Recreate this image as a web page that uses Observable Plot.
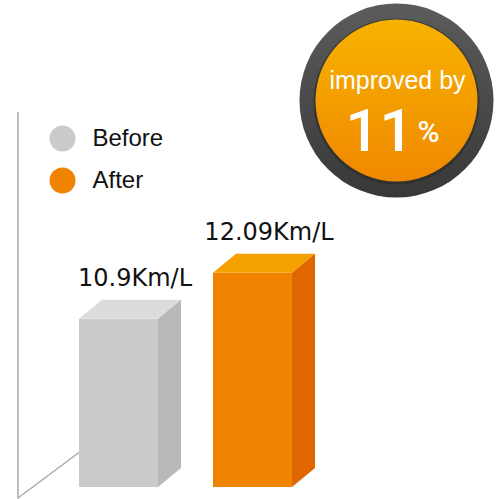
<!DOCTYPE html>
<html><head><meta charset="utf-8">
<script src="https://cdn.jsdelivr.net/npm/d3@7"></script>
<script src="https://cdn.jsdelivr.net/npm/@observablehq/plot@0.6"></script>
<style>
body{margin:0;background:#fff;}
#chart svg{display:block;}
g[aria-label="bar label"] text{letter-spacing:1.2px;}
</style></head><body><div id="chart"></div>
<script>
const categories = ["Before", "After"];
const values = [10.9, 12.09];
const valueLabels = ["10.9Km/L", "12.09Km/L"];
const legendLabels = ["Before", "After"];
const badgeText = "improved by";
const badgeValue = "11";
const badgeUnit = "%";

const frontColors = ["#cbcbcb", "#f08300"];
const topColors = ["#dcdcdc", "#f5a100"];
const sideColors = ["#b9b9b9", "#e06700"];

const data = categories.map((c, i) => ({category: c, value: values[i], label: valueLabels[i], i}));
const yBase = 6.55;
const depthX = 23, depthY = 19;

function bw(x) { return typeof x.bandwidth === "function" ? x.bandwidth() : x.bandwidth; }

function defsMark() {
  const g = d3.create("svg:g");
  const defs = g.append("defs");
  const ring = defs.append("linearGradient").attr("id", "ringGrad").attr("x1", 0).attr("y1", 0).attr("x2", 0).attr("y2", 1);
  ring.append("stop").attr("offset", "0%").attr("stop-color", "#5c5c5c");
  ring.append("stop").attr("offset", "100%").attr("stop-color", "#383838");
  const core = defs.append("linearGradient").attr("id", "coreGrad").attr("x1", 0).attr("y1", 0).attr("x2", 0).attr("y2", 1);
  core.append("stop").attr("offset", "0%").attr("stop-color", "#f7b300");
  core.append("stop").attr("offset", "100%").attr("stop-color", "#f08800");
  return g.node();
}

function floorMark(index, scales) {
  const x = scales.x, y = scales.y;
  const x0 = x(categories[0]);
  const ax = x0 - 61;
  const yb = y(yBase);
  const g = d3.create("svg:g").attr("stroke", "#a9a9a9").attr("stroke-width", 1.5).attr("fill", "none");
  g.append("line").attr("x1", ax).attr("x2", ax).attr("y1", 112).attr("y2", 499);
  g.append("line").attr("x1", ax).attr("y1", yb + 11).attr("x2", x0 + 10).attr("y2", yb - 35 - 7);
  return g.node();
}

function facesMark(index, scales) {
  const x = scales.x, y = scales.y;
  const w = bw(x);
  const g = d3.create("svg:g");
  data.forEach((d) => {
    const x1 = x(d.category), x2 = x1 + w;
    const yt = y(d.value), yb = y(yBase);
    g.append("polygon")
      .attr("points", [[x1, yt], [x1 + depthX, yt - depthY], [x2 + depthX, yt - depthY], [x2, yt]].join(" "))
      .attr("fill", topColors[d.i]);
    g.append("polygon")
      .attr("points", [[x2, yt], [x2 + depthX, yt - depthY], [x2 + depthX, yb - depthY], [x2, yb]].join(" "))
      .attr("fill", sideColors[d.i]);
  });
  return g.node();
}

const plot = Plot.plot({
  width: 501,
  height: 499,
  margin: 0,
  x: {type: "band", domain: categories, range: [78, 293], paddingInner: 0.407, paddingOuter: 0, axis: null},
  y: {domain: [yBase, 19.15], range: [487, 0], axis: null},
  marks: [
    defsMark,
    floorMark,
    Plot.rectY(data, {x: "category", y1: yBase, y2: "value", fill: (d) => frontColors[d.i], inset: 0}),
    facesMark,
    Plot.text(data, {x: "category", y: "value", text: "label", dx: 16, dy: -33, lineAnchor: "bottom",
      fontSize: 24, fontFamily: "DejaVu Sans", fill: "#111", ariaLabel: "bar label"}),
    // legend
    Plot.dot([legendLabels[0]], {frameAnchor: "top-left", dx: 62, dy: 138, r: 13, fill: frontColors[0], stroke: null}),
    Plot.dot([legendLabels[1]], {frameAnchor: "top-left", dx: 62, dy: 180, r: 13, fill: frontColors[1], stroke: null}),
    Plot.text([legendLabels[0]], {text: (d) => d, frameAnchor: "top-left", dx: 92, dy: 138, textAnchor: "start", lineAnchor: "middle", fontSize: 24, fontFamily: "Liberation Sans", fill: "#111"}),
    Plot.text([legendLabels[1]], {text: (d) => d, frameAnchor: "top-left", dx: 92, dy: 180, textAnchor: "start", lineAnchor: "middle", fontSize: 24, fontFamily: "Liberation Sans", fill: "#111"}),
    // badge
    Plot.dot([badgeText], {frameAnchor: "top-left", dx: 396, dy: 100, r: 97, fill: "url(#ringGrad)", stroke: null}),
    Plot.dot([badgeText], {frameAnchor: "top-left", dx: 396, dy: 101, r: 83, fill: "#2a2a2a", fillOpacity: 0.6, stroke: null}),
    Plot.dot([badgeText], {frameAnchor: "top-left", dx: 396, dy: 100, r: 81, fill: "url(#coreGrad)", stroke: null}),
    Plot.text([badgeText], {text: (d) => d, frameAnchor: "top-left", dx: 397, dy: 88, textAnchor: "middle", lineAnchor: "bottom", fontSize: 25, fontFamily: "Liberation Sans", fill: "#fff"}),
    Plot.text([badgeValue], {text: (d) => d, frameAnchor: "top-left", dx: 379, dy: 150, textAnchor: "middle", lineAnchor: "bottom", fontSize: 60, fontWeight: 500, fontFamily: "Roboto", fill: "#fff"}),
    Plot.text([badgeUnit], {text: (d) => d, frameAnchor: "top-left", dx: 428, dy: 141, textAnchor: "middle", lineAnchor: "bottom", fontSize: 30, fontWeight: 500, fontFamily: "Roboto", fill: "#fff"})
  ]
});
document.getElementById("chart").appendChild(plot);
</script></body></html>
